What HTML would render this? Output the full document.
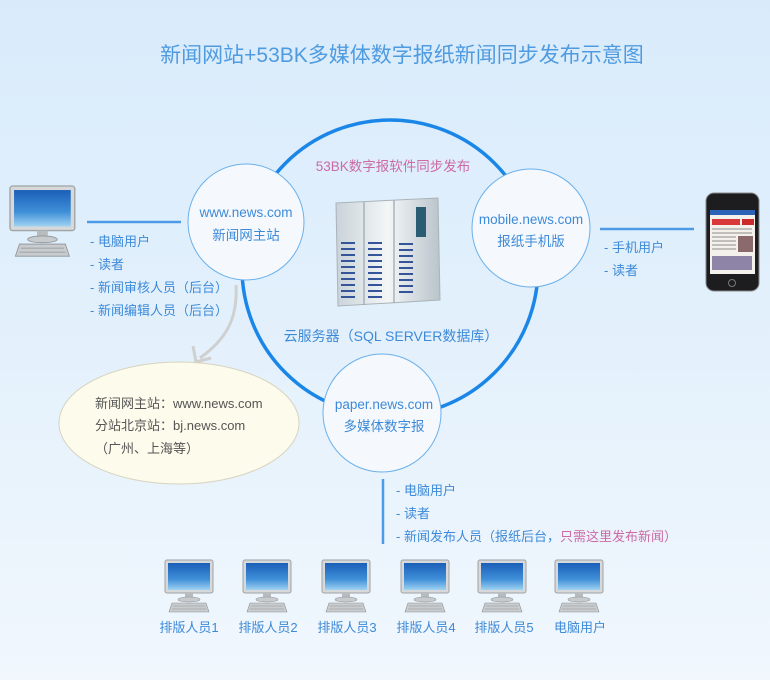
<!DOCTYPE html>
<html><head><meta charset="utf-8"><style>
html,body{margin:0;padding:0}
body{width:770px;height:680px;overflow:hidden;background:linear-gradient(#d9ebfb 0%,#e2f0fc 45%,#f1f7fd 100%);font-family:"Liberation Sans","Noto Sans CJK SC",sans-serif}
svg{display:block}
svg text{font-family:"Liberation Sans","Noto Sans CJK SC",sans-serif}
</style></head><body>
<svg width="770" height="680" viewBox="0 0 770 680" xmlns="http://www.w3.org/2000/svg">
<defs>
<linearGradient id="scr" x1="0" y1="0" x2="0" y2="1"><stop offset="0" stop-color="#1b5fb8"/><stop offset="0.6" stop-color="#3f8fd8"/><stop offset="1" stop-color="#9fd3f2"/></linearGradient>
<linearGradient id="cab" x1="0" y1="0" x2="1" y2="0"><stop offset="0" stop-color="#c9d3d9"/><stop offset="0.5" stop-color="#f3f6f7"/><stop offset="1" stop-color="#b9c4cb"/></linearGradient>
<g id="mon">
<rect x="0" y="0" width="48" height="33" rx="2" fill="#d6d8d9" stroke="#9ea3a6"/>
<rect x="3" y="3" width="42" height="27" fill="url(#scr)"/>
<path d="M20 33h8v5h-8z" fill="#b8bcbf"/>
<ellipse cx="24" cy="39.5" rx="11" ry="2.5" fill="#c8cbcd" stroke="#8f9497" stroke-width="0.6"/>
<path d="M7 43h34l3 9H4z" fill="#c9cccf" stroke="#8c9194" stroke-width="0.6"/>
<path d="M8 46h32M7 49h34" stroke="#8f9497" stroke-width="0.6"/>
</g>
</defs>

<text x="402" y="62" font-size="21" fill="#4f9be0" text-anchor="middle">新闻网站+53BK多媒体数字报纸新闻同步发布示意图</text>

<circle cx="390" cy="268" r="148" fill="none" stroke="#1a86e8" stroke-width="3.5"/>

<g transform="translate(10,186) scale(1.35)"><use href="#mon"/></g>
<line x1="87" y1="222" x2="181" y2="222" stroke="#4d9be6" stroke-width="2.5"/>
<g font-size="13" fill="#3d8ad8">
<text x="90" y="246">- 电脑用户</text>
<text x="90" y="269">- 读者</text>
<text x="90" y="292">- 新闻审核人员（后台）</text>
<text x="90" y="315">- 新闻编辑人员（后台）</text>
</g>

<path d="M236 285 C238 320 225 340 200 358" fill="none" stroke="#cfd0d0" stroke-width="3"/>
<path d="M193 346 L196 362 L211 358" fill="none" stroke="#cfd0d0" stroke-width="3"/>

<ellipse cx="179" cy="423" rx="120" ry="61" fill="#fcfbec" stroke="#d7d3bf"/>
<g font-size="13" fill="#555">
<text x="95" y="408">新闻网主站：www.news.com</text>
<text x="95" y="430">分站北京站：bj.news.com</text>
<text x="95" y="453">（广州、上海等）</text>
</g>

<circle cx="246" cy="222" r="58" fill="#f5f9fe" stroke="#6ab0ea"/>
<text x="246" y="217" font-size="13.5" fill="#3d8ad8" text-anchor="middle">www.news.com</text>
<text x="246" y="240" font-size="13.5" fill="#3d8ad8" text-anchor="middle">新闻网主站</text>

<circle cx="531" cy="228" r="59" fill="#f5f9fe" stroke="#6ab0ea"/>
<text x="531" y="224" font-size="13.5" fill="#3d8ad8" text-anchor="middle">mobile.news.com</text>
<text x="531" y="246" font-size="13.5" fill="#3d8ad8" text-anchor="middle">报纸手机版</text>

<circle cx="382" cy="413" r="59" fill="#f5f9fe" stroke="#6ab0ea"/>
<text x="384" y="409" font-size="13.5" fill="#3d8ad8" text-anchor="middle">paper.news.com</text>
<text x="384" y="431" font-size="13.5" fill="#3d8ad8" text-anchor="middle">多媒体数字报</text>

<text x="393" y="171" font-size="13.5" fill="#cc6aa6" text-anchor="middle">53BK数字报软件同步发布</text>

<g>
<path d="M336 203 L438 198 L440 300 L338 306 Z" fill="url(#cab)" stroke="#a9b3b9"/>
<path d="M364 202 V305 M394 200 V303" stroke="#9aa6ad" stroke-width="1.2"/>
<rect x="416" y="207" width="10" height="30" fill="#2a5d73"/>
<g stroke="#34559a" stroke-width="2">
<path d="M341 243h14M341 249h14M341 255h14M341 261h14M341 267h14M341 273h14M341 279h14M341 285h14M341 291h14M341 297h14"/>
<path d="M368 243h14M368 249h14M368 255h14M368 261h14M368 267h14M368 273h14M368 279h14M368 285h14M368 291h14M368 297h14"/>
<path d="M399 244h14M399 250h14M399 256h14M399 262h14M399 268h14M399 274h14M399 280h14M399 286h14M399 292h14"/>
</g>
</g>
<text x="391" y="341" font-size="14" fill="#3d8ad8" text-anchor="middle">云服务器（SQL SERVER数据库）</text>

<line x1="600" y1="229" x2="694" y2="229" stroke="#4d9be6" stroke-width="2.5"/>
<g font-size="13" fill="#3d8ad8">
<text x="604" y="252">- 手机用户</text>
<text x="604" y="275">- 读者</text>
</g>
<rect x="706" y="193" width="53" height="98" rx="8" fill="#1d1d1f" stroke="#888"/>
<rect x="710" y="210" width="45" height="64" fill="#f4f1ec"/>
<rect x="710" y="210" width="45" height="5" fill="#2b62b8"/>
<rect x="712" y="219" width="28" height="6" fill="#d8383a"/>
<rect x="742" y="219" width="12" height="6" fill="#cc2a2a"/>
<path d="M712 229h40M712 233h40M712 237h24M712 241h24M712 245h24M712 249h24" stroke="#8a8a8a" stroke-width="1"/>
<rect x="738" y="236" width="15" height="16" fill="#8a6a6a"/>
<rect x="712" y="256" width="40" height="14" fill="#8d84a8"/>
<circle cx="732" cy="283" r="3.5" fill="none" stroke="#777"/>

<line x1="383" y1="479" x2="383" y2="544" stroke="#4d9be6" stroke-width="2.5"/>
<g font-size="13" fill="#3d8ad8">
<text x="396" y="495">- 电脑用户</text>
<text x="396" y="518">- 读者</text>
<text x="396" y="541">- 新闻发布人员（报纸后台，<tspan fill="#cc6aa6">只需这里发布新闻）</tspan></text>
</g>

<g transform="translate(165,560)"><use href="#mon"/></g>
<g transform="translate(243,560)"><use href="#mon"/></g>
<g transform="translate(322,560)"><use href="#mon"/></g>
<g transform="translate(401,560)"><use href="#mon"/></g>
<g transform="translate(478,560)"><use href="#mon"/></g>
<g transform="translate(555,560)"><use href="#mon"/></g>
<g font-size="13" fill="#3d8ad8" text-anchor="middle">
<text x="189" y="632">排版人员1</text>
<text x="268" y="632">排版人员2</text>
<text x="347" y="632">排版人员3</text>
<text x="426" y="632">排版人员4</text>
<text x="504" y="632">排版人员5</text>
<text x="580" y="632">电脑用户</text>
</g>
</svg>
</body></html>
